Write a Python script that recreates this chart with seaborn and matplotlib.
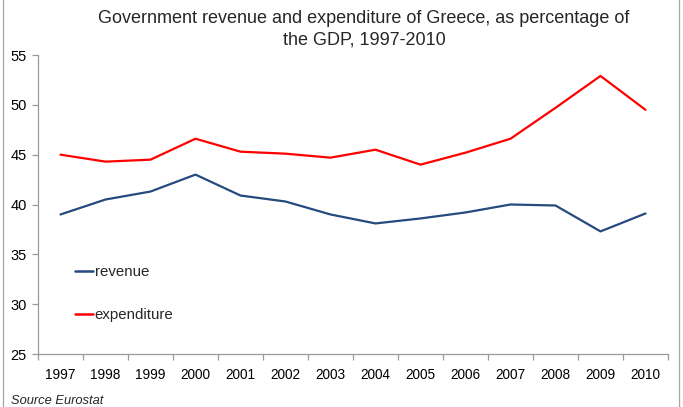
import matplotlib
matplotlib.use("Agg")
import matplotlib.pyplot as plt
from matplotlib.lines import Line2D
import seaborn as sns
import pandas as pd

years = ["1997", "1998", "1999", "2000", "2001", "2002", "2003",
         "2004", "2005", "2006", "2007", "2008", "2009", "2010"]
revenue = [39.0, 40.5, 41.3, 43.0, 40.9, 40.3, 39.0,
           38.1, 38.6, 39.2, 40.0, 39.9, 37.3, 39.1]
expenditure = [45.0, 44.3, 44.5, 46.6, 45.3, 45.1, 44.7,
               45.5, 44.0, 45.2, 46.6, 49.7, 52.9, 49.5]
series_names = ["revenue", "expenditure"]
series_colors = ["#254A7E", "#FF0000"]
title_text = "Government revenue and expenditure of Greece, as percentage of\nthe GDP, 1997-2010"
source_text = "Source Eurostat"

sns.set_theme(style="white")
plt.rcParams["font.family"] = ["Liberation Sans", "DejaVu Sans"]

df = pd.DataFrame({
    "year": years * 2,
    "value": revenue + expenditure,
    "series": [series_names[0]] * len(years) + [series_names[1]] * len(years),
})

fig = plt.figure(figsize=(6.83, 4.07), dpi=100)
W, H = 683, 407
ax = fig.add_axes([38 / W, 1 - 354 / H, (668 - 38) / W, (354 - 55) / H])

sns.lineplot(data=df, x="year", y="value", hue="series",
             palette=dict(zip(series_names, series_colors)),
             linewidth=1.6, ax=ax, legend=False, sort=False)

ax.set_xlim(-0.5, len(years) - 0.5)
ax.set_ylim(25, 55)
ax.set_yticks(range(25, 56, 5))
ax.set_xlabel("")
ax.set_ylabel("")

grey = "#9A9A9A"
for side in ("top", "right"):
    ax.spines[side].set_visible(False)
for side in ("left", "bottom"):
    ax.spines[side].set_color(grey)
    ax.spines[side].set_linewidth(0.9)

ax.set_xticks(range(len(years)))
ax.set_xticklabels(years)
ax.set_xticks([i - 0.5 for i in range(len(years) + 1)], minor=True)
ax.tick_params(axis="x", which="major", length=0, pad=10, labelsize=9.8,
               labelcolor="black")
ax.tick_params(axis="x", which="minor", direction="out", length=4,
               width=0.9, color=grey, bottom=True)
ax.tick_params(axis="y", which="major", direction="out", length=4,
               width=0.9, color=grey, left=True, pad=4, labelsize=10.5,
               labelcolor="black")

handles = [Line2D([0], [0], color=c, linewidth=1.8) for c in series_colors]
ax.legend(handles, series_names, loc="upper left",
          bbox_to_anchor=((75 - 38) / 630, (354 - 265) / 299),
          frameon=False, fontsize=10.8,
          handlelength=1.2, handletextpad=0.12, labelspacing=1.95,
          borderaxespad=0, borderpad=0)

fig.text(364 / W, 1 - 10 / H, title_text, ha="center", va="top",
         fontsize=13, linespacing=1.33)
fig.text(11 / W, 1 - 404 / H, source_text, ha="left", va="baseline",
         fontsize=9.3, style="italic")

# thin frame lines at the left and right edges of the figure
for xpix in (3, 679):
    fig.add_artist(Line2D([xpix / W, xpix / W], [0, 1], color="#A6A6A6",
                          linewidth=0.9, transform=fig.transFigure))

fig.savefig("out.png", dpi=100)
